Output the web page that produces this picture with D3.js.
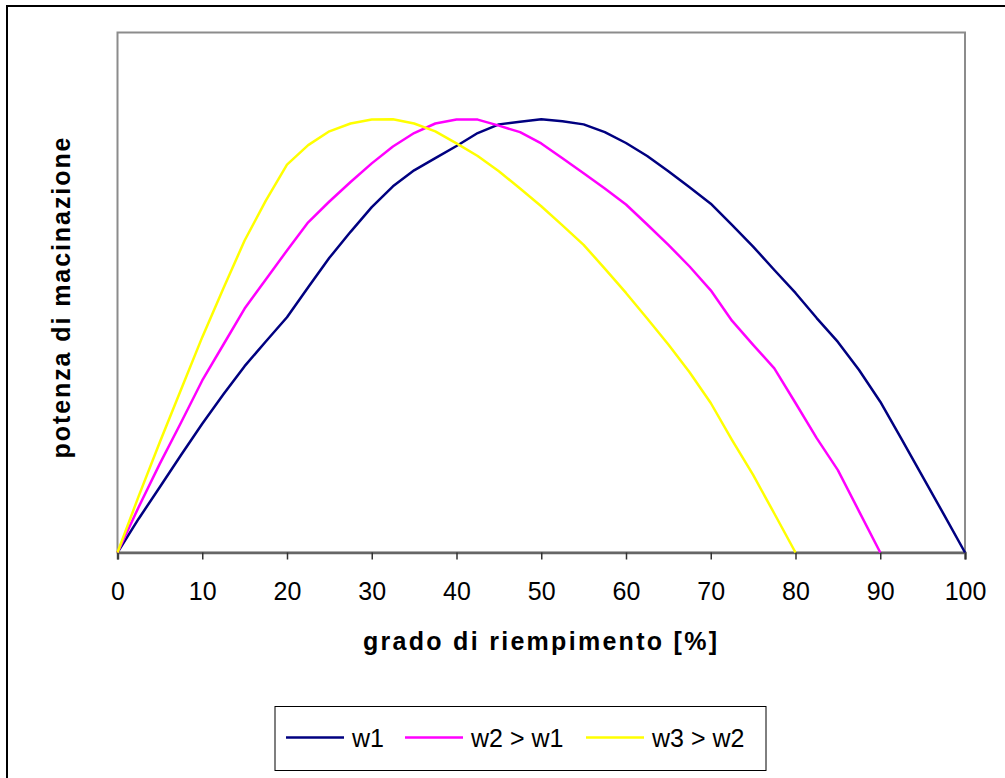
<!DOCTYPE html>
<html>
<head>
<meta charset="utf-8">
<script src="https://cdn.jsdelivr.net/npm/d3@7"></script>
<style>
  body { margin: 0; background: #fff; }
  text { font-family: "Liberation Sans", Arial, sans-serif; fill: #000; }
</style>
</head>
<body>
<div id="chart"></div>
<script>
// x values (grado di riempimento, %), step 2.5
var xs = d3.range(0, 100.01, 2.5);

// series values (relative, peak = 1)
var w1 = [0, 0.078, 0.151, 0.225, 0.297, 0.365, 0.43, 0.487, 0.543, 0.612,
  0.68, 0.74, 0.797, 0.845, 0.882, 0.91, 0.938, 0.968, 0.988, 0.994,
  1.0, 0.995, 0.988, 0.97, 0.945, 0.915, 0.88, 0.843, 0.805, 0.756,
  0.706, 0.652, 0.599, 0.541, 0.486, 0.421, 0.348, 0.262, 0.175, 0.088, 0];
var w2 = [0, 0.105, 0.205, 0.3, 0.397, 0.48, 0.563, 0.63, 0.697, 0.762,
  0.81, 0.855, 0.898, 0.937, 0.968, 0.99, 0.999, 0.999, 0.985, 0.97,
  0.944, 0.91, 0.875, 0.84, 0.803, 0.757, 0.71, 0.66, 0.605, 0.535,
  0.479, 0.425, 0.345, 0.264, 0.19, 0.095, 0];
var w3 = [0, 0.13, 0.255, 0.376, 0.497, 0.61, 0.72, 0.812, 0.895, 0.94,
  0.972, 0.99, 0.999, 1.0, 0.99, 0.972, 0.944, 0.915, 0.88, 0.84,
  0.799, 0.755, 0.71, 0.655, 0.599, 0.54, 0.48, 0.416, 0.345, 0.26,
  0.179, 0.09, 0];

var seriesNames = ["w1", "w2 > w1", "w3 > w2"];
var seriesColors = ["#000080", "#ff00ff", "#ffff00"];
var seriesData = [w1, w2, w3];
var xTicks = d3.range(0, 101, 10);

var svgWidth = 1005, svgHeight = 778;
var margin = {top: 32.5, right: 40, bottom: 225.5, left: 117.5};
var width = 965 - margin.left;
var height = 552.5 - margin.top;

var svg = d3.select("#chart").append("svg")
  .attr("width", svgWidth)
  .attr("height", svgHeight);

// outer frame (cut off at right and bottom)
svg.append("rect")
  .attr("x", 7).attr("y", 6)
  .attr("width", 1020).attr("height", 800)
  .attr("fill", "none")
  .attr("stroke", "#000")
  .attr("stroke-width", 2);

var g = svg.append("g")
  .attr("transform", `translate(${margin.left}, ${margin.top})`);

var x = d3.scaleLinear().domain([0, 100]).range([0, width]);
var y = d3.scaleLinear().domain([0, 1.2]).range([height, 0]);

// plot area border
g.append("rect")
  .attr("width", width).attr("height", height)
  .attr("fill", "none")
  .attr("stroke", "#8c8c8c")
  .attr("stroke-width", 2);

// x axis
var xAxis = g.append("g")
  .attr("transform", `translate(0, ${height})`)
  .call(d3.axisBottom(x).tickValues(xTicks).tickSize(7).tickPadding(23).tickFormat(d3.format("d")));
xAxis.select(".domain").attr("stroke", "#666").attr("stroke-width", 2.5);
xAxis.selectAll(".tick line").attr("stroke", "#333").attr("stroke-width", 1.5);
xAxis.selectAll(".tick text")
  .style("font-family", "'Liberation Sans', Arial, sans-serif")
  .style("font-size", "25px")
  .attr("fill", "#000");

// lines
var line = d3.line()
  .x(function(d, i) { return x(xs[i]); })
  .y(function(d) { return y(d); });

seriesData.forEach(function(s, k) {
  g.append("path")
    .datum(s)
    .attr("fill", "none")
    .attr("stroke", seriesColors[k])
    .attr("stroke-width", 2.5)
    .attr("stroke-linejoin", "round")
    .attr("d", line);
});

// axis titles
svg.append("text")
  .attr("x", 540).attr("y", 650)
  .attr("text-anchor", "middle")
  .attr("textLength", 354)
  .attr("lengthAdjust", "spacing")
  .style("font-size", "25px")
  .style("font-weight", "bold")
  .text("grado di riempimento [%]");

svg.append("text")
  .attr("transform", "translate(70, 298) rotate(-90)")
  .attr("text-anchor", "middle")
  .attr("textLength", 321)
  .attr("lengthAdjust", "spacing")
  .style("font-size", "25px")
  .style("font-weight", "bold")
  .text("potenza di macinazione");

// legend
var legend = svg.append("g");
legend.append("rect")
  .attr("x", 275).attr("y", 706.5)
  .attr("width", 491).attr("height", 64)
  .attr("fill", "#fff")
  .attr("stroke", "#000")
  .attr("stroke-width", 1);

var legendX = [286, 405, 586];
seriesNames.forEach(function(name, k) {
  legend.append("line")
    .attr("x1", legendX[k]).attr("x2", legendX[k] + 58)
    .attr("y1", 737.5).attr("y2", 737.5)
    .attr("stroke", seriesColors[k])
    .attr("stroke-width", 2.5);
  legend.append("text")
    .attr("x", legendX[k] + 66).attr("y", 746.5)
    .style("font-size", "25px")
    .text(name);
});
</script>
</body>
</html>
